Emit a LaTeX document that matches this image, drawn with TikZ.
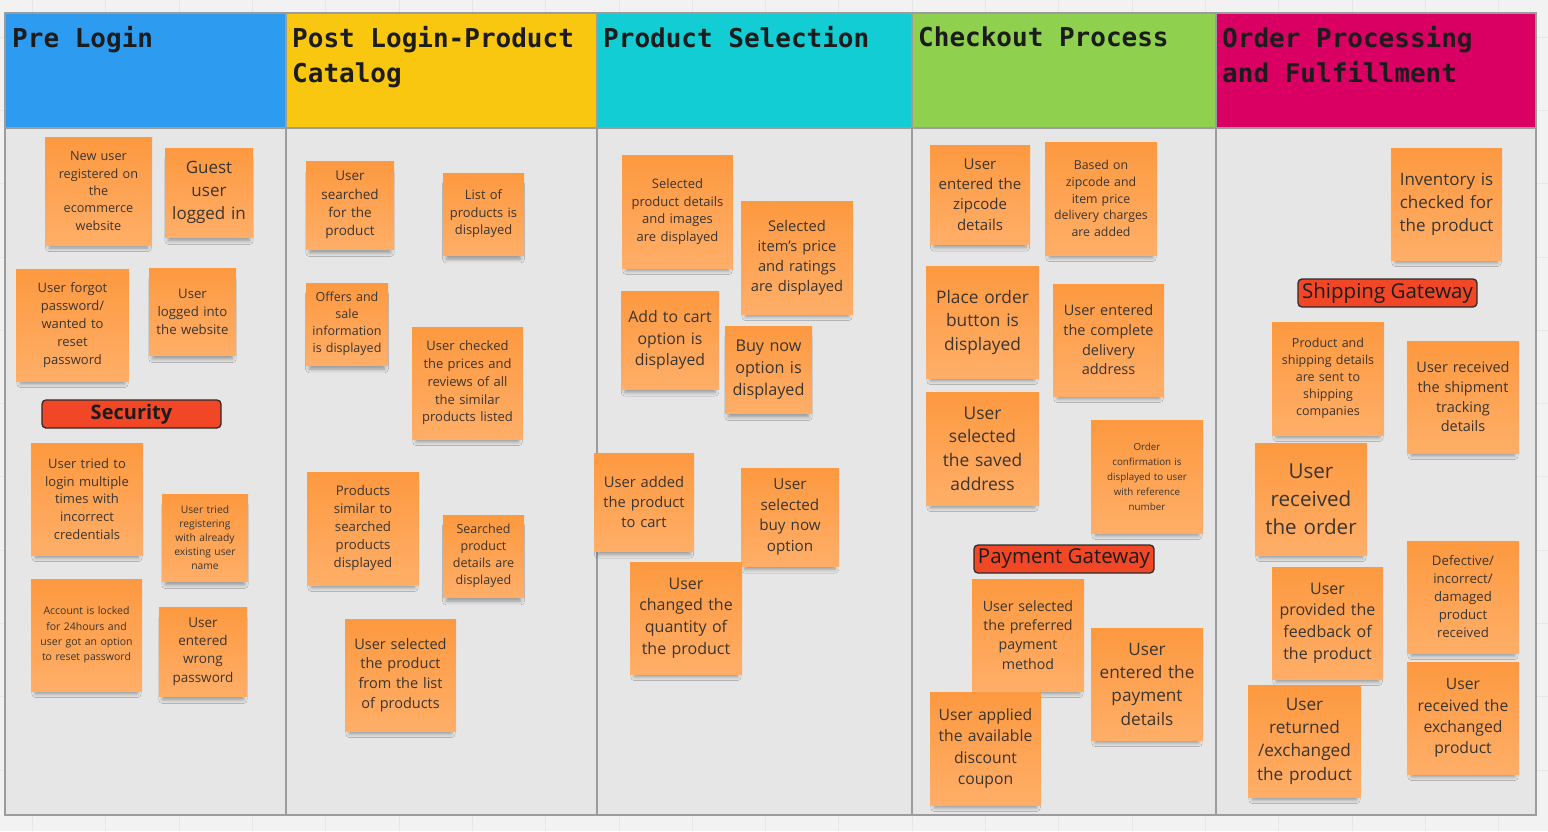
\documentclass[tikz,border=0pt]{standalone}
\usepackage{fontspec}
\setmainfont{Open Sans}
\newfontfamily\hdrfont{DejaVu Sans Mono}
\usetikzlibrary{shadows.blur}
\definecolor{bgc}{HTML}{F2F2F2}
\definecolor{gridc}{HTML}{E7E7E7}
\definecolor{bodyc}{HTML}{E6E6E6}
\definecolor{linec}{HTML}{9C9C9C}
\definecolor{hblue}{HTML}{2D9BF0}
\definecolor{hyellow}{HTML}{FAC710}
\definecolor{hcyan}{HTML}{12CDD4}
\definecolor{hgreen}{HTML}{8FD14F}
\definecolor{hmag}{HTML}{DA0063}
\definecolor{stkA}{HTML}{FD9940}
\definecolor{stkB}{HTML}{FFAE68}
\definecolor{stkT}{HTML}{3A3530}
\definecolor{lblc}{HTML}{F24726}
\definecolor{lbld}{HTML}{2B2B2B}
\definecolor{hdrt}{HTML}{1C1C1C}
\tikzset{
  gridline/.style={draw=gridc, line width=0.8pt},
  boardline/.style={draw=linec, line width=1.4pt},
  hdr/.style={anchor=north west, inner sep=0pt, align=left, text=hdrt,
    font=\hdrfont\bfseries\fontsize{26}{35}\selectfont},
  sticky/.style={top color=stkA, bottom color=stkB, inner sep=3pt, align=center, text=stkT,
    blur shadow={shadow xshift=0pt, shadow yshift=-8pt, shadow scale=0.92,
      shadow blur radius=4pt, shadow opacity=35}},
  lbl/.style={fill=lblc, draw=lbld, line width=1.3pt, rounded corners=4pt, inner sep=0pt, text=hdrt}
}
\newcommand\stk[8]{%
  \pgfmathsetmacro\stkcx{(#2+#4)/2}%
  \pgfmathsetmacro\stkcy{(#3+#5)/2}%
  \pgfmathsetmacro\stkww{#4-#2}%
  \pgfmathsetmacro\stkhh{#5-#3}%
  \pgfmathsetmacro\stktw{#4-#2-6}%
  \node[sticky, minimum width=\stkww pt, minimum height=\stkhh pt, text width=\stktw pt,
    font=\fontsize{#6}{#7}\selectfont] (#1) at (\stkcx,\stkcy) {#8};}
\begin{document}
\begin{tikzpicture}[x=1pt, y=-1pt]
\useasboundingbox (0,0) rectangle (1548,831);
\fill[bgc] (0,0) rectangle (1548,831);
\foreach \i in {0,...,20} {\draw[gridline] ({32.5+73.3*\i},0) -- ({32.5+73.3*\i},831);}
\foreach \j in {0,...,11} {\draw[gridline] (0,{37+73.3*\j}) -- (1548,{37+73.3*\j});}
% board
\fill[bodyc] (5,128) rectangle (1536,815);
\fill[hblue] (5,13) rectangle (286,128);
\fill[hyellow] (286,13) rectangle (597,128);
\fill[hcyan] (597,13) rectangle (912,128);
\fill[hgreen] (912,13) rectangle (1216,128);
\fill[hmag] (1216,13) rectangle (1536,128);
\draw[boardline] (5,13) rectangle (1536,815);
\draw[boardline] (5,128) -- (1536,128);
\foreach \cxx in {286,597,912,1216} {\draw[boardline] (\cxx,13) -- (\cxx,815);}
% headers
\node[hdr] (h1) at (12,26.5) {Pre Login};
\node[hdr] (h2) at (292,26.5) {Post Login-Product\\Catalog};
\node[hdr] (h3) at (603,26.5) {Product Selection};
\node[hdr] (h4) at (918,26.5) {Checkout Process};
\node[hdr] (h5) at (1222,26.5) {Order Processing\\and Fulfillment};
% Pre Login
\stk{n1}{45}{137}{152}{245}{12.7}{17.3}{New user\\registered on\\the\\ecommerce\\website}
\stk{n2}{165}{148}{253}{237}{17}{23}{Guest\\user\\logged in}
\stk{n3}{16}{269}{129}{381}{13}{17.8}{User forgot\\password/\\wanted to\\reset\\password}
\stk{n4}{149}{268}{236}{355}{13.2}{18}{User\\logged into\\the website}
\node[lbl, minimum width=179pt, minimum height=28pt, font=\bfseries\fontsize{20}{24}\selectfont] (sec) at (131.5,414) {Security};
\stk{n6}{31}{443}{143}{555}{13}{17.8}{User tried to\\login multiple\\times with\\incorrect\\credentials}
\stk{n7}{162}{494}{248}{581}{10.3}{14}{User tried\\registering\\with already\\existing user\\name}
\stk{n8}{31}{579}{142}{691}{10.5}{15.3}{Account is locked\\for 24hours and\\user got an option\\to reset password}
\stk{n9}{159}{607}{247}{696}{13.5}{18.3}{User\\entered\\wrong\\password}
% Post Login
\stk{n10}{306}{161}{394}{249}{13.5}{18.3}{User\\searched\\for the\\product}
\stk{n11}{443}{173}{524}{255}{12.9}{17.5}{List of\\products is\\displayed}
\stk{n12}{306}{283}{388}{365}{12.5}{17}{Offers and\\sale\\information\\is displayed}
\stk{n13}{412}{327}{523}{439}{13}{17.8}{User checked\\the prices and\\reviews of all\\the similar\\products listed}
\stk{n14}{307}{472}{419}{585}{13.2}{18}{Products\\similar to\\searched\\products\\displayed}
\stk{n15}{443}{515}{524}{597}{12.5}{17}{Searched\\product\\details are\\displayed}
\stk{n16}{345}{619}{456}{731}{14.5}{19.7}{User selected\\the product\\from the list\\of products}
% Product Selection
\stk{n17}{622}{155}{733}{268}{13}{17.7}{Selected\\product details\\and images\\are displayed}
\stk{n18}{741}{201}{853}{314}{14.7}{20}{Selected\\item's price\\and ratings\\are displayed}
\stk{n19}{621}{291}{719}{389}{15.8}{21.5}{Add to cart\\option is\\displayed}
\stk{n20}{725}{326}{812}{413}{16.2}{22}{Buy now\\option is\\displayed}
\stk{n21}{594}{453}{694}{551}{14.7}{20}{User added\\the product\\to cart}
\stk{n22}{741}{468}{839}{566}{15.2}{20.7}{User\\selected\\buy now\\option}
\stk{n23}{630}{562}{742}{674}{16}{21.7}{User\\changed the\\quantity of\\the product}
% Checkout
\stk{n24}{930}{145}{1030}{244}{15}{20.3}{User\\entered the\\zipcode\\details}
\stk{n25}{1045}{142}{1157}{255}{12.3}{16.8}{Based on\\zipcode and\\item price\\delivery charges\\are added}
\stk{n26}{926}{266}{1039}{378}{17.3}{23.5}{Place order\\button is\\displayed}
\stk{n27}{1053}{284}{1164}{396}{14.5}{19.7}{User entered\\the complete\\delivery\\address}
\stk{n28}{926}{392}{1039}{505}{17.4}{23.7}{User\\selected\\the saved\\address}
\stk{n29}{1091}{420}{1203}{533}{9.8}{15}{Order\\confirmation is\\displayed to user\\with reference\\number}
\node[lbl, minimum width=180pt, minimum height=28pt, font=\fontsize{20.5}{24}\selectfont] (pay) at (1064,559) {Payment Gateway};
\stk{n31}{972}{579}{1084}{691}{14.2}{19.3}{User selected\\the preferred\\payment\\method}
\stk{n32}{1091}{628}{1203}{740}{17.2}{23.3}{User\\entered the\\payment\\details}
\stk{n33}{930}{692}{1041}{805}{15.7}{21.3}{User applied\\the available\\discount\\coupon}
% Order Processing
\stk{n34}{1391}{148}{1502}{260}{17}{23}{Inventory is\\checked for\\the product}
\node[lbl, minimum width=179pt, minimum height=28pt, font=\fontsize{20.5}{24}\selectfont] (ship) at (1387.5,293) {Shipping Gateway};
\stk{n36}{1272}{322}{1384}{435}{12.5}{17}{Product and\\shipping details\\are sent to\\shipping\\companies}
\stk{n37}{1407}{341}{1519}{453}{14.5}{19.7}{User received\\the shipment\\tracking\\details}
\stk{n38}{1255}{443}{1367}{555}{20.6}{28}{User\\received\\the order}
\stk{n39}{1272}{567}{1383}{679}{16}{21.7}{User\\provided the\\feedback of\\the product}
\stk{n40}{1407}{541}{1519}{653}{13.2}{18}{Defective/\\incorrect/\\damaged\\product\\received}
\stk{n41}{1248}{685}{1361}{797}{17.2}{23.3}{User\\returned\\/exchanged\\the product}
\stk{n42}{1407}{662}{1519}{774}{15.7}{21.3}{User\\received the\\exchanged\\product}
\end{tikzpicture}
\end{document}
